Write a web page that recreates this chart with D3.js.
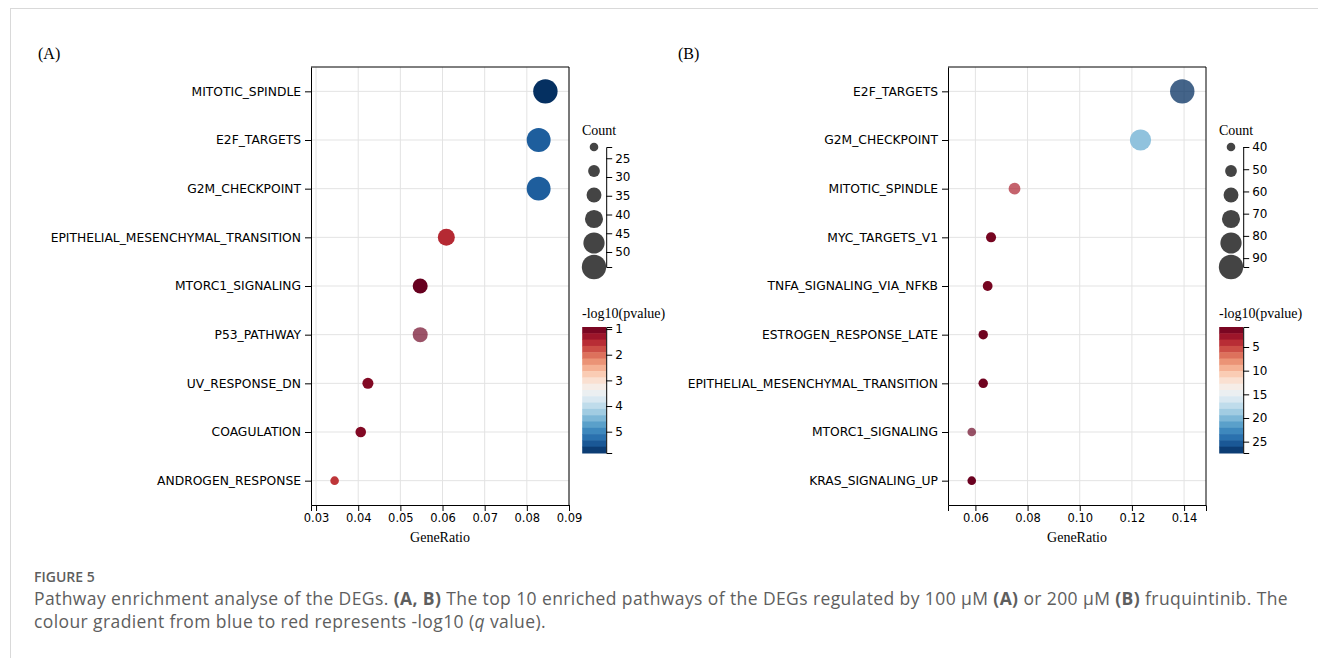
<!DOCTYPE html>
<html>
  <head>
    <meta charset="utf-8">
    <title>Pathway enrichment</title>
    <script src="https://d3js.org/d3.v7.min.js"></script>
    <style>
      body { margin: 0; background: #fff; }
      .tick text { font-family: "DejaVu Sans", sans-serif; font-size: 11.5px; fill: #000; }
      .yaxis .tick text { font-size: 12.3px; }
      .legend .tick text { font-size: 12px; }
      .serif { font-family: "Liberation Serif", "Times New Roman", serif; fill: #000; }
      .grid line { stroke: #e3e3e3; stroke-width: 1; }
      .cap { font-family: "Open Sans", sans-serif; fill: #5e5e5e; }
    </style>
  </head>
  <body>
    <svg id="fig" width="1318" height="658"></svg>
    <script>
      // panel A data
      pathwaysA = ["MITOTIC_SPINDLE", "E2F_TARGETS", "G2M_CHECKPOINT", "EPITHELIAL_MESENCHYMAL_TRANSITION",
        "MTORC1_SIGNALING", "P53_PATHWAY", "UV_RESPONSE_DN", "COAGULATION", "ANDROGEN_RESPONSE"];
      ratioA = [0.0844, 0.0828, 0.0828, 0.0609, 0.0547, 0.0547, 0.0423, 0.0406, 0.0344];
      countA = [54, 53, 53, 39, 35, 35, 27, 26, 22];
      logpA = [5.83, 5.4, 5.4, 1.5, 0.92, 0.95, 1.1, 1.1, 1.6];
      alphaA = [1, 1, 1, 1, 1, 0.68, 1, 1, 1];
      xDomainA = [0.0288, 0.09];
      xTicksA = [0.03, 0.04, 0.05, 0.06, 0.07, 0.08, 0.09];
      countTicksA = [25, 30, 35, 40, 45, 50];
      colorTicksA = [1, 2, 3, 4, 5];
      // panel B data
      pathwaysB = ["E2F_TARGETS", "G2M_CHECKPOINT", "MITOTIC_SPINDLE", "MYC_TARGETS_V1", "TNFA_SIGNALING_VIA_NFKB",
        "ESTROGEN_RESPONSE_LATE", "EPITHELIAL_MESENCHYMAL_TRANSITION", "MTORC1_SIGNALING", "KRAS_SIGNALING_UP"];
      ratioB = [0.1393, 0.1233, 0.0750, 0.0660, 0.0647, 0.0630, 0.0630, 0.0586, 0.0586];
      countB = [94, 83, 51, 45, 44, 43, 43, 40, 40];
      logpB = [27.4, 19.4, 3.5, 1.3, 1.3, 1.1, 1.1, 0.77, 0.9];
      alphaB = [0.75, 1, 0.7, 1, 1, 1, 1, 0.68, 1];
      xDomainB = [0.0495, 0.1484];
      xTicksB = [0.06, 0.08, 0.10, 0.12, 0.14];
      countTicksB = [40, 50, 60, 70, 80, 90];
      colorTicksB = [5, 10, 15, 20, 25];

      svg = d3.select("#fig");
      // outer frame
      svg.append("rect")
        .attr("x", 10.5).attr("y", 8.5)
        .attr("width", 1400).attr("height", 700)
        .attr("fill", "none").attr("stroke", "#d9d9d9");

      function drawPanel(p) {
        var top = 67, bottom = 505;
        var x = d3.scaleLinear().domain(p.xDomain).range([p.left, p.right]);
        var y = d3.scalePoint().domain(p.names).range([top, bottom]).padding(0.5);
        var r = d3.scaleLinear().domain(d3.extent(p.count)).range([4.3, 12.2]);
        var cdom = d3.extent(p.logp);
        var color = function(v) { return d3.interpolateRdBu((v - cdom[0]) / (cdom[1] - cdom[0])); };
        var rows = p.names.map(function(n, i) {
          return { name: n, ratio: p.ratio[i], count: p.count[i], logp: p.logp[i], alpha: p.alpha[i] };
        });
        var g = svg.append("g");
        // grid
        g.append("g").attr("class", "grid").selectAll("line.v").data(p.xTicks).join("line")
          .attr("x1", function(d) { return x(d); }).attr("x2", function(d) { return x(d); })
          .attr("y1", top).attr("y2", bottom);
        g.append("g").attr("class", "grid").selectAll("line.h").data(p.names).join("line")
          .attr("x1", p.left).attr("x2", p.right)
          .attr("y1", function(d) { return y(d); }).attr("y2", function(d) { return y(d); });
        // frame
        g.append("path")
          .attr("d", "M" + p.left + "," + top + "H" + p.right + "V" + bottom)
          .attr("fill", "none").attr("stroke", "#000");
        // axes
        g.append("g").attr("transform", "translate(0," + bottom + ")")
          .call(d3.axisBottom(x).tickValues(p.xTicks).tickFormat(d3.format(".2f")).tickSize(6).tickPadding(3));
        g.append("g").attr("class", "yaxis").attr("transform", "translate(" + p.left + ",0)")
          .call(d3.axisLeft(y).tickSize(6).tickPadding(4).tickSizeOuter(0));
        g.selectAll(".domain, .tick line").attr("stroke", "#000");
        g.append("text").attr("class", "serif").attr("font-size", 14)
          .attr("x", (p.left + p.right) / 2).attr("y", 542).attr("text-anchor", "middle").text("GeneRatio");
        g.append("text").attr("class", "serif").attr("font-size", 16)
          .attr("x", p.labelX).attr("y", 59).text(p.label);
        // dots
        g.append("g").selectAll("circle").data(rows).join("circle")
          .attr("cx", function(d) { return x(d.ratio); })
          .attr("cy", function(d) { return y(d.name); })
          .attr("r", function(d) { return r(d.count); })
          .attr("fill", function(d) { return color(d.logp); })
          .attr("fill-opacity", function(d) { return d.alpha; });

        // count legend
        var cx = p.right + 25, axX = cx + 12.2;
        var sy = d3.scaleLinear().domain(d3.extent(p.count)).range([147, 267]);
        var lg = svg.append("g").attr("class", "legend");
        lg.append("text").attr("class", "serif").attr("font-size", 14)
          .attr("x", p.right + 13).attr("y", 135).text("Count");
        var steps = d3.range(6).map(function(i) { return sy.domain()[0] + i * (sy.domain()[1] - sy.domain()[0]) / 5; });
        lg.selectAll("circle").data(steps).join("circle")
          .attr("cx", cx).attr("cy", function(d) { return sy(d); })
          .attr("r", function(d) { return r(d); }).attr("fill", "#444");
        lg.append("g").attr("transform", "translate(" + axX + ",0)")
          .call(d3.axisRight(sy).tickValues(p.countTicks).tickSize(6).tickPadding(3));

        // colour legend
        var cy = d3.scaleLinear().domain(cdom).range([327, 453]);
        var bar = svg.append("g").attr("class", "legend");
        bar.append("text").attr("class", "serif").attr("font-size", 14)
          .attr("x", p.right + 13).attr("y", 318).text("-log10(pvalue)");
        var n = 20, h = (cy.range()[1] - cy.range()[0]) / n;
        bar.selectAll("rect").data(d3.range(n)).join("rect")
          .attr("x", axX - 24).attr("width", 24)
          .attr("y", function(i) { return cy.range()[0] + i * h; }).attr("height", h + 0.5)
          .attr("fill", function(i) { return color(cy.invert(cy.range()[0] + (i + 0.5) * h)); });
        bar.append("g").attr("transform", "translate(" + axX + ",0)")
          .call(d3.axisRight(cy).tickValues(p.colorTicks).tickFormat(d3.format("d")).tickSize(6).tickPadding(3));
        lg.selectAll(".domain, .tick line").attr("stroke", "#000");
        bar.selectAll(".domain, .tick line").attr("stroke", "#000");
      }

      drawPanel({ names: pathwaysA, ratio: ratioA, count: countA, logp: logpA, alpha: alphaA,
        xDomain: xDomainA, xTicks: xTicksA, countTicks: countTicksA, colorTicks: colorTicksA,
        left: 311, right: 569, label: "(A)", labelX: 38 });
      drawPanel({ names: pathwaysB, ratio: ratioB, count: countB, logp: logpB, alpha: alphaB,
        xDomain: xDomainB, xTicks: xTicksB, countTicks: countTicksB, colorTicks: colorTicksB,
        left: 948, right: 1206, label: "(B)", labelX: 678 });

      // caption
      svg.append("text").attr("class", "cap").attr("x", 34).attr("y", 582)
        .attr("font-size", 14).attr("font-weight", 600).text("FIGURE 5");
      var l1 = svg.append("text").attr("class", "cap").attr("x", 34).attr("y", 605)
        .attr("font-size", 17.5).attr("letter-spacing", 0.4);
      [["Pathway enrichment analyse of the DEGs. ", 400], ["(A, B)", 700], [" The top 10 enriched pathways of the DEGs regulated by 100 μM ", 400],
        ["(A)", 700], [" or 200 μM ", 400], ["(B)", 700], [" fruquintinib. The", 400]].forEach(function(s) {
        l1.append("tspan").attr("font-weight", s[1]).text(s[0]);
      });
      var l2 = svg.append("text").attr("class", "cap").attr("x", 34).attr("y", 628)
        .attr("font-size", 17.5).attr("letter-spacing", 0.4);
      l2.append("tspan").text("colour gradient from blue to red represents -log10 (");
      l2.append("tspan").attr("font-style", "italic").text("q");
      l2.append("tspan").text(" value).");
    </script>
  </body>
</html>
